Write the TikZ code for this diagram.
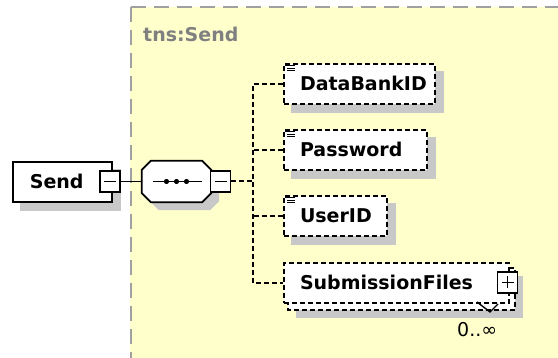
\documentclass[tikz,border=0pt]{standalone}
\usepackage{fontspec}
\setmainfont{DejaVu Sans}
\usetikzlibrary{calc}
\definecolor{schemayellow}{RGB}{255,255,204}
\definecolor{shadowgray}{RGB}{200,200,200}
\definecolor{framegray}{RGB}{160,160,160}
\definecolor{labelgray}{RGB}{128,128,128}
\pgfdeclarelayer{back}
\pgfdeclarelayer{shade}
\pgfsetlayers{back,shade,main}
\newcommand\octpath[2]{($(seq.north west)+(9+#1,#2)$) -- ($(seq.north east)+(-9+#1,#2)$) -- ($(seq.north east)+(#1,9+#2)$) -- ($(seq.south east)+(#1,-9+#2)$) -- ($(seq.south east)+(-9+#1,#2)$) -- ($(seq.south west)+(9+#1,#2)$) -- ($(seq.south west)+(#1,-9+#2)$) -- ($(seq.north west)+(#1,9+#2)$) -- cycle}
\begin{document}
\begin{tikzpicture}[x=1pt,y=-1pt,
  lbl/.style={font=\fontsize{19}{22}\selectfont\bfseries},
  elem/.style={draw, line width=2, dash pattern=on 5pt off 3pt, fill=white,
    anchor=north west, minimum height=40, inner xsep=0, inner ysep=0,
    text width=#1, align=left, text height=13.9, text depth=0, lbl},
  ctrl/.style={draw, solid, fill=white, line width=1.8, minimum width=20,
    minimum height=21, inner sep=0},
  conn/.style={line width=1.8},
  dconn/.style={line width=2, dash pattern=on 5pt off 3pt},
  shadow/.style={fill=shadowgray},
  icon/.style={line width=1.1}
]
\useasboundingbox (0,0) rectangle (558,358);

% schema type container
\begin{pgfonlayer}{back}
  \fill[schemayellow] (130,7) rectangle (558,358);
  \draw[framegray, line width=2, dash pattern=on 15pt off 8pt] (131,7) -- (558,7);
  \draw[framegray, line width=2, dash pattern=on 15pt off 8pt] (131,7) -- (131,358);
\end{pgfonlayer}
\node[lbl, text=labelgray, anchor=west, inner sep=0, text height=13.9, text depth=0] (tns) at (143,35) {tns:Send};

% root element
\node[elem=99, solid, line width=1.8] (send) at (12,161) {\hspace*{17pt}\mbox{Send}};
\node[ctrl] (sendctl) at (110,181.5) {};
\draw[line width=1.6] (sendctl.center) +(-6,0) -- +(6,0);

% sequence compositor
\node[minimum width=69, minimum height=41, inner sep=0] (seq) at (176.5,181.5) {};
\draw[line width=1.8, fill=white] \octpath{0}{0};
\draw[line width=1.8] ($(seq.west)+(11,0)$) -- ($(seq.east)+(-9,0)$);
\foreach \dx in {-10,0,10} \fill ($(seq.center)+(\dx,0)$) circle (2.6);
\node[ctrl] (seqctl) at (220.5,181.5) {};
\draw[line width=1.6] (seqctl.center) +(-6,0) -- +(6,0);

% child elements
\node[elem=151] (db) at (283,63) {\hspace*{16pt}\mbox{DataBankID}};
\node[elem=143] (pw) at (283,129) {\hspace*{16pt}\mbox{Password}};
\node[elem=103] (uid) at (283,195) {\hspace*{16pt}\mbox{UserID}};
\node[elem=225] (sf) at (283,262) {\hspace*{16pt}\mbox{SubmissionFiles}};
\node[ctrl] (sfctl) at (507.5,282.5) {};
\draw[line width=1.6] (sfctl.center) +(-6,0) -- +(6,0) (sfctl.center) +(0,-6) -- +(0,6);
\node[font=\fontsize{19}{22}\selectfont, anchor=west, inner sep=0, text height=13.9, text depth=0] (occ) at (457,329.5) {0..∞};
\draw[line width=1.4] (477,302) -- (490,312) -- (498,304);

% simple-content icons
\foreach \n in {db,pw,uid} {
  \draw[icon] ($(\n.north west)+(2,2.8)$) -- +(10,0);
  \draw[icon] ($(\n.north west)+(4,5.3)$) -- +(8,0);
  \draw[icon] ($(\n.north west)+(4,7.8)$) -- +(8,0);
}

% shadows and repeated-occurrence back box
\begin{pgfonlayer}{shade}
  \fill[shadow] ($(send.north west)+(8,8)$) rectangle ($(send.south east)+(8,8)$);
  \fill[shadow] \octpath{8}{8};
  \foreach \n in {db,pw,uid} \fill[shadow] ($(\n.north west)+(8,8)$) rectangle ($(\n.south east)+(8,8)$);
  \fill[shadow] ($(sf.north west)+(13,14)$) rectangle ($(sf.south east)+(13,14)$);
  \draw[line width=2, dash pattern=on 5pt off 3pt, fill=white] ($(sf.north west)+(5,6)$) rectangle ($(sf.south east)+(5,6)$);
\end{pgfonlayer}

% connectors
\coordinate (j) at (253,181.5);
\draw[conn] (sendctl.east) -- (seq.west);
\draw[dconn] (seqctl.east) -- (j);
\draw[dconn] (db.west) -| (j) |- (sf.west);
\draw[dconn] (pw.west) -- (pw.west -| j);
\draw[dconn] (uid.west) -- (uid.west -| j);
\end{tikzpicture}
\end{document}
